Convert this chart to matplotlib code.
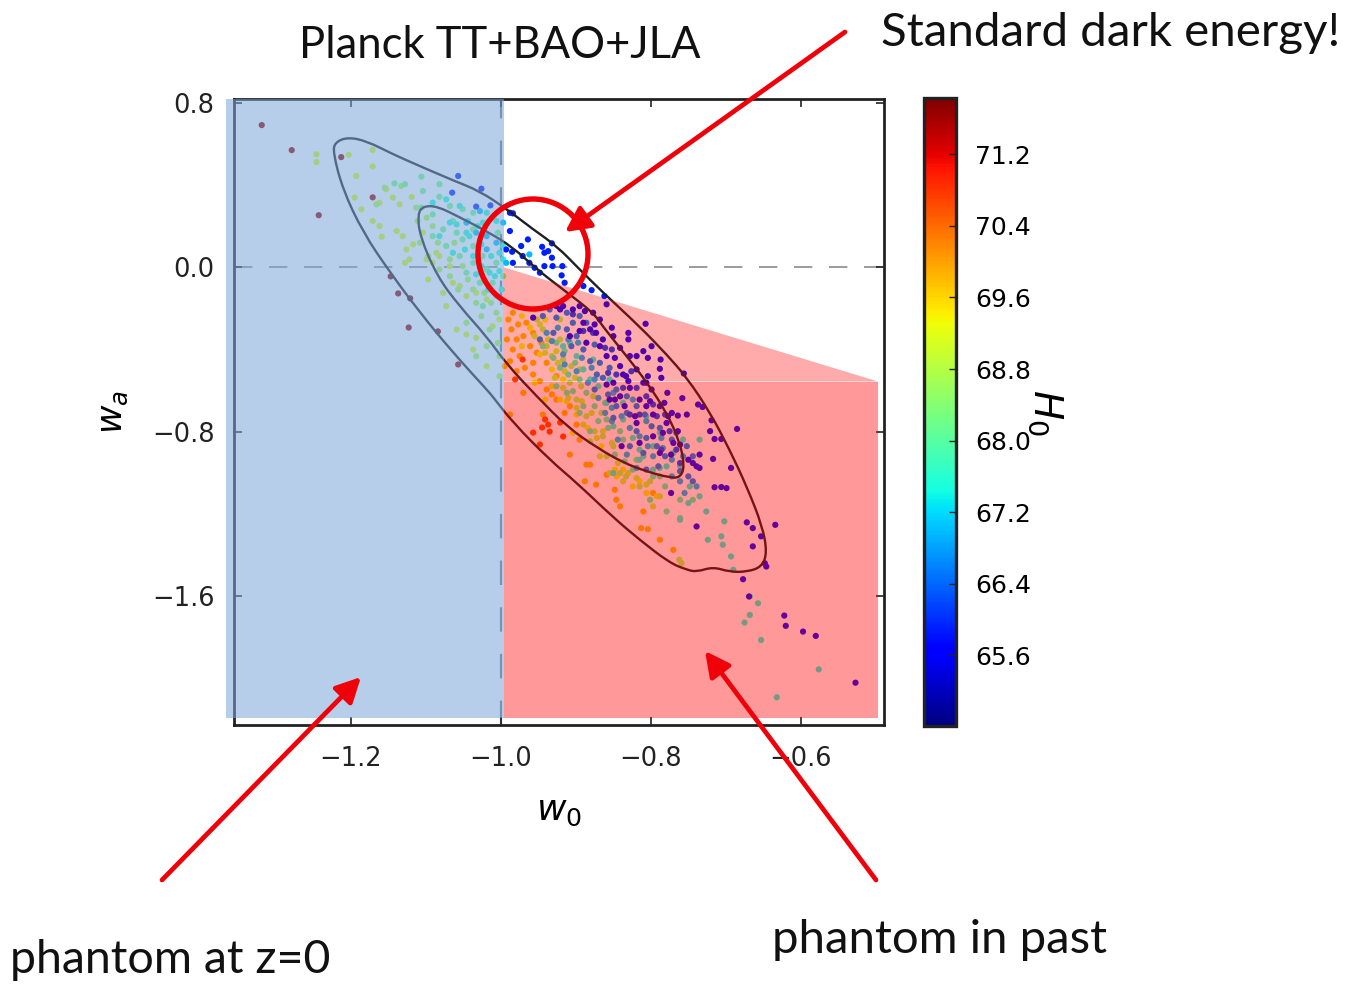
import matplotlib
matplotlib.use("Agg")
import matplotlib.pyplot as plt
import numpy as np
from matplotlib.cm import ScalarMappable
from matplotlib.colors import Normalize
from matplotlib.patches import Circle, PathPatch
from matplotlib.path import Path

W, H = 1346, 986
ink = "#222222"
plt.rcParams.update({
    'font.family': 'DejaVu Sans',
    'mathtext.fontset': 'dejavusans',
    'axes.linewidth': 2.0,
    'axes.edgecolor': ink,
    'text.color': ink,
})

# outer and inner likelihood contours
outer_w0 = [-1.224, -1.221, -1.204, -1.179, -1.144, -1.108, -1.064, -1.028, -0.992, -0.957, -0.925, -0.895, -0.864,
            -0.815, -0.779, -0.752, -0.721, -0.695, -0.672, -0.651, -0.645, -0.652, -0.672, -0.695, -0.717, -0.739,
            -0.752, -0.775, -0.815, -0.851, -0.899, -0.935, -0.984, -1.011, -1.019, -1.064, -1.108, -1.148, -1.184,
            -1.211]
outer_wa = [0.561, 0.610, 0.634, 0.615, 0.551, 0.493, 0.424, 0.371, 0.283, 0.185, 0.102, -0.010, -0.122,
            -0.288, -0.424, -0.537, -0.707, -0.888, -1.068, -1.263, -1.390, -1.459, -1.483, -1.483, -1.459, -1.483,
            -1.473, -1.439, -1.327, -1.215, -1.049, -0.937, -0.756, -0.629, -0.595, -0.415, -0.220, -0.024, 0.171,
            0.380]
inner_w0 = [-1.111, -1.104, -1.085, -1.055, -1.019, -0.984, -0.952, -0.912, -0.877, -0.864, -0.832, -0.805, -0.779,
            -0.761, -0.755, -0.761, -0.775, -0.805, -0.837, -0.872, -0.912, -0.952, -0.992, -1.019, -1.055, -1.085,
            -1.108]
inner_wa = [0.259, 0.298, 0.298, 0.244, 0.176, 0.098, -0.010, -0.122, -0.220, -0.288, -0.434, -0.561, -0.707,
            -0.854, -0.971, -1.024, -1.024, -0.995, -0.951, -0.878, -0.776, -0.629, -0.473, -0.337, -0.190, -0.044,
            0.151]

# samples, one group per H0 band
h0_tail = 71.7
w0_tail = [-1.319, -1.279, -1.243, -1.147, -1.137, -1.123, -1.213, -1.171, -1.084, -1.057, -1.121]
wa_tail = [0.693, 0.571, 0.254, -0.044, -0.127, -0.293, 0.537, 0.341, -0.312, -0.473, -0.151]

h0_red = 70.6
w0_red = [-0.957, -0.945, -0.937, -0.921, -0.917, -0.948, -0.935, -0.981, -0.971, -0.941]
wa_red = [-0.805, -0.780, -0.766, -0.756, -0.824, -0.863, -0.800, -0.546, -0.449, -0.741]

h0_orange = 69.75
w0_orange = [-0.990, -0.986, -0.979, -0.984, -0.975, -0.988, -0.966, -0.970, -0.961, -0.952, -0.968, -0.957, -0.948,
             -0.970, -0.939, -0.932, -0.944, -0.908, -0.886, -0.881, -0.888, -0.873, -0.859, -0.846, -0.841, -0.848,
             -0.810, -0.813, -0.804, -0.788, -0.770, -0.797, -0.908, -0.895, -0.988, -0.992, -0.984, -0.977, -0.957,
             -0.946, -0.939, -0.926, -0.957, -0.995, -0.979, -0.926, -0.915, -0.899]
wa_orange = [-0.254, -0.302, -0.351, -0.400, -0.432, -0.457, -0.270, -0.335, -0.384, -0.416, -0.489, -0.522, -0.554,
             -0.611, -0.595, -0.619, -0.717, -0.912, -0.961, -0.961, -1.042, -1.058, -1.010, -1.132, -1.164, -1.083,
             -1.189, -1.270, -1.275, -1.327, -1.376, -1.099, -0.676, -0.839, -0.717, -0.351, -0.221, -0.278, -0.319,
             -0.367, -0.465, -0.530, -0.465, -0.481, -0.506, -0.644, -0.709, -0.766]

h0_amber = 69.3
w0_amber = [-0.972, -0.955, -0.941, -0.961, -0.972, -0.948, -0.932, -0.917, -0.932, -0.912, -0.921, -0.899, -0.904,
            -0.884, -0.866, -0.837, -0.846, -0.824, -0.806, -0.815, -0.848, -0.792, -0.955, -0.941]
wa_amber = [-0.237, -0.205, -0.254, -0.294, -0.384, -0.424, -0.497, -0.546, -0.579, -0.652, -0.644, -0.717, -0.806,
            -0.782, -0.871, -0.985, -1.018, -1.067, -1.099, -1.042, -0.985, -1.115, -0.562, -0.644]

h0_yellow = 69.1
w0_yellow = [-1.246, -1.246, -1.203, -1.171, -1.171, -1.193, -1.195, -1.186, -1.171, -1.162, -1.159, -1.153, -1.162,
             -1.144, -1.135, -1.119, -1.139, -1.131, -1.117, -1.126, -1.122, -1.128, -1.097, -1.091, -1.068, -1.064,
             -1.055, -1.077, -1.073, -1.046, -1.033, -1.019, -1.059, -1.046, -1.033, -1.037, -1.019, -1.011, -1.002,
             -1.104, -1.086, -1.099, -1.082]
wa_yellow = [0.551, 0.513, 0.548, 0.572, 0.491, 0.445, 0.340, 0.283, 0.226, 0.201, 0.149, 0.380, 0.315,
             0.340, 0.307, 0.343, 0.177, 0.152, 0.112, 0.087, 0.039, 0.022, -0.059, 0.022, 0.006, -0.075,
             -0.091, -0.124, -0.189, -0.140, -0.124, -0.156, -0.303, -0.327, -0.343, -0.400, -0.482, -0.287, -0.254,
             0.169, 0.071, 0.039, 0.055]

h0_khaki = 68.9
w0_khaki = [-0.955, -0.948, -0.937, -0.941, -0.926, -0.924, -0.915, -0.928, -0.901, -0.917, -0.910, -0.892, -0.899,
            -0.879, -0.890, -0.872, -0.864, -0.852, -0.868, -0.844, -0.830, -0.855, -0.837, -0.819, -0.806, -0.788,
            -0.797]
wa_khaki = [-0.335, -0.278, -0.351, -0.416, -0.408, -0.465, -0.506, -0.538, -0.538, -0.587, -0.636, -0.652, -0.684,
            -0.709, -0.766, -0.831, -0.798, -0.855, -0.920, -0.953, -1.002, -1.002, -1.042, -1.026, -1.058, -1.115,
            -1.164]

h0_olive = 68.7
w0_olive = [-0.921, -0.932, -0.917, -0.908, -0.899, -0.886, -0.875, -0.864, -0.881, -0.859, -0.841, -0.833, -0.815,
            -0.801, -0.850, -0.906, -0.893, -0.895, -0.877, -0.866, -0.921, -0.944, -0.939, -0.952, -0.762, -0.759]
wa_olive = [-0.351, -0.432, -0.449, -0.562, -0.644, -0.725, -0.798, -0.823, -0.847, -0.920, -1.002, -1.018, -1.067,
            -1.042, -0.871, -0.481, -0.579, -0.497, -0.628, -0.709, -0.254, -0.302, -0.384, -0.254, -1.424, -1.441]

h0_lime = 68.7
w0_lime = [-1.155, -1.166, -1.133, -1.113, -1.099, -1.111, -1.091, -1.108, -1.084, -1.062, -1.097, -1.068, -1.051,
           -1.082, -1.068, -1.044, -1.057, -1.037, -1.022, -1.033, -1.013, -1.006, -1.026, -1.046, -1.015, -1.019,
           -1.004, -1.002, -1.033, -1.002]
wa_lime = [0.388, 0.307, 0.396, 0.291, 0.242, 0.226, 0.201, 0.120, 0.120, 0.120, 0.055, 0.039, 0.006,
           -0.010, -0.043, -0.059, -0.108, -0.108, -0.124, -0.173, -0.173, -0.221, -0.238, -0.270, -0.303, -0.384,
           -0.368, -0.433, -0.433, -0.530]

h0_green = 68.2
w0_green = [-1.106, -1.128, -1.142, -1.104, -1.082, -1.082, -1.106, -1.091, -1.068, -1.064, -1.051, -1.077, -1.059,
            -1.091, -1.073, -1.051, -1.037, -1.055, -1.037, -1.024, -1.019, -1.046, -1.028, -1.011, -1.006, -1.024,
            -0.997, -1.006, -1.037, -1.037, -1.004]
wa_green = [0.442, 0.405, 0.409, 0.372, 0.405, 0.344, 0.291, 0.258, 0.299, 0.226, 0.283, 0.185, 0.169,
            0.152, 0.104, 0.136, 0.104, 0.055, 0.022, 0.055, -0.010, -0.026, -0.075, -0.075, -0.140, -0.189,
            -0.043, 0.022, 0.185, 0.266, 0.169]

h0_sea = 67.9
w0_sea = [-0.944, -0.926, -0.915, -0.930, -0.921, -0.901, -0.910, -0.895, -0.904, -0.886, -0.890, -0.875, -0.861,
          -0.870, -0.857, -0.841, -0.837, -0.848, -0.835, -0.819, -0.824, -0.797, -0.788, -0.781, -0.801, -0.761,
          -0.744, -0.779, -0.761, -0.859, -0.912, -0.926, -0.881, -0.895]
wa_sea = [-0.384, -0.367, -0.408, -0.441, -0.489, -0.465, -0.522, -0.546, -0.603, -0.611, -0.676, -0.676, -0.660,
          -0.749, -0.782, -0.798, -0.839, -0.912, -0.945, -0.937, -0.985, -1.018, -1.018, -1.067, -1.132, -1.132,
          -1.132, -1.189, -1.221, -0.741, -0.611, -0.579, -0.798, -0.709]

h0_teal = 67.5
w0_teal = [-0.917, -0.908, -0.899, -0.890, -0.881, -0.870, -0.859, -0.850, -0.837, -0.824, -0.815, -0.810, -0.797,
           -0.788, -0.779, -0.761, -0.757, -0.735, -0.748, -0.750, -0.735, -0.761, -0.726, -0.702, -0.706, -0.724,
           -0.704, -0.693, -0.690, -0.668, -0.675, -0.657, -0.653, -0.576, -0.632, -0.668, -0.877, -0.855, -0.806,
           -0.837, -0.788, -0.770, -0.797, -0.850, -0.815]
wa_teal = [-0.384, -0.367, -0.432, -0.497, -0.546, -0.579, -0.660, -0.774, -0.741, -0.831, -0.888, -0.920, -0.871,
           -0.977, -0.969, -0.969, -0.839, -0.839, -1.067, -1.148, -1.115, -1.229, -1.189, -1.237, -1.310, -1.327,
           -1.351, -1.408, -1.473, -1.693, -1.730, -1.636, -1.815, -1.958, -2.094, -1.603, -0.449, -0.546, -0.725,
           -0.660, -0.806, -0.904, -0.985, -1.002, -0.937]

h0_aqua = 67.5
w0_aqua = [-1.091, -1.073, -1.055, -1.044, -1.068, -1.082, -1.059, -1.046, -1.064, -1.048, -1.026, -1.037, -1.026,
           -1.013, -1.002, -1.015, -1.002, -1.033, -1.017, -0.999, -1.042, -1.024, -1.006, -1.019, -1.031, -0.997,
           -0.997, -1.008]
wa_aqua = [0.315, 0.331, 0.299, 0.226, 0.218, 0.152, 0.209, 0.169, 0.071, 0.087, 0.112, 0.055, 0.006,
           0.055, 0.071, -0.026, -0.018, -0.034, -0.108, -0.108, 0.152, 0.218, 0.226, 0.266, 0.201, 0.104,
           0.039, -0.043]

h0_steel = 67.0
w0_steel = [-0.939, -0.924, -0.910, -0.897, -0.917, -0.892, -0.879, -0.884, -0.870, -0.852, -0.861, -0.839, -0.828,
            -0.844, -0.815, -0.804, -0.784, -0.772, -0.797, -0.832, -0.819, -0.757, -0.761, -0.755, -0.739, -0.772,
            -0.899, -0.932, -0.915, -0.852, -0.875, -0.850, -0.824, -0.806, -0.786]
wa_steel = [-0.319, -0.294, -0.351, -0.367, -0.424, -0.441, -0.489, -0.562, -0.636, -0.684, -0.709, -0.725, -0.782,
            -0.839, -0.823, -0.871, -0.880, -0.937, -0.920, -0.912, -0.977, -0.920, -1.042, -1.099, -1.067, -1.018,
            -0.506, -0.359, -0.473, -0.749, -0.546, -0.611, -0.644, -0.749, -0.831]

h0_cyan = 67.0
w0_cyan = [-1.006, -1.019, -0.993, -0.997, -1.019, -1.046, -1.033, -1.028, -0.962]
wa_cyan = [0.120, 0.152, 0.022, 0.218, 0.088, 0.218, 0.169, 0.274, 0.063]

h0_slate = 66.6
w0_slate = [-0.935, -0.926, -0.912, -0.904, -0.895, -0.912, -0.899, -0.886, -0.875, -0.890, -0.906, -0.881, -0.868,
            -0.855, -0.864, -0.872, -0.875, -0.846, -0.857, -0.832, -0.846, -0.819, -0.832, -0.808, -0.850, -0.819,
            -0.799, -0.788, -0.806, -0.772, -0.792, -0.828, -0.810, -0.781, -0.752, -0.744, -0.750, -0.744, -0.806,
            -0.790, -0.761, -0.766, -0.944, -0.930, -0.948]
wa_slate = [-0.205, -0.245, -0.221, -0.270, -0.237, -0.302, -0.335, -0.270, -0.376, -0.400, -0.384, -0.457, -0.465,
            -0.489, -0.538, -0.522, -0.595, -0.595, -0.619, -0.628, -0.676, -0.676, -0.709, -0.717, -0.733, -0.798,
            -0.774, -0.782, -0.831, -0.839, -0.871, -0.871, -0.904, -0.920, -0.871, -0.920, -1.018, -1.042, -0.985,
            -0.969, -0.993, -0.806, -0.237, -0.319, -0.351]

h0_indigo = 66.2
w0_indigo = [-0.904, -0.877, -0.890, -0.861, -0.852, -0.846, -0.857, -0.826, -0.819, -0.837, -0.806, -0.792, -0.781,
             -0.797, -0.815, -0.828, -0.775, -0.786, -0.766, -0.761]
wa_indigo = [-0.229, -0.319, -0.310, -0.392, -0.400, -0.522, -0.514, -0.506, -0.587, -0.587, -0.628, -0.725, -0.717,
             -0.668, -0.717, -0.717, -0.798, -0.888, -0.888, -0.953]

h0_violet = 65.7
w0_violet = [-0.807, -0.830, -0.830, -0.799, -0.810, -0.819, -0.804, -0.787, -0.788, -0.786, -0.756, -0.804, -0.806,
             -0.778, -0.758, -0.782, -0.737, -0.731, -0.764, -0.752, -0.777, -0.719, -0.721, -0.685, -0.715, -0.706,
             -0.717, -0.693, -0.735, -0.744, -0.739, -0.715, -0.706, -0.699, -0.672, -0.664, -0.653, -0.664, -0.634,
             -0.648, -0.646, -0.677, -0.669, -0.622, -0.620, -0.597, -0.580, -0.527, -0.739, -0.773, -0.904, -0.890,
             -0.881, -0.877, -0.873, -0.859, -0.850, -0.868, -0.859, -0.841, -0.833, -0.850, -0.859, -0.855, -0.841,
             -0.828, -0.815, -0.806, -0.819, -0.797, -0.784, -0.770, -0.839, -0.815, -0.957, -0.921, -0.895, -0.886,
             -0.788, -0.773, -0.917, -0.895, -0.868, -0.852, -0.864, -0.841, -0.848, -0.828, -0.819, -0.830, -0.810,
             -0.799, -0.788, -0.772, -0.801, -0.779, -0.764, -0.761, -0.837, -0.888, -0.875, -0.926, -0.908, -0.848,
             -0.835, -0.821, -0.797, -0.750, -0.735]
wa_violet = [-0.275, -0.319, -0.351, -0.384, -0.408, -0.432, -0.441, -0.449, -0.494, -0.538, -0.517, -0.530, -0.562,
             -0.611, -0.637, -0.660, -0.668, -0.680, -0.722, -0.717, -0.725, -0.745, -0.798, -0.787, -0.836, -0.836,
             -0.933, -0.977, -0.912, -0.953, -0.969, -1.071, -1.070, -1.075, -1.242, -1.270, -1.310, -1.359, -1.254,
             -1.441, -1.457, -1.519, -1.603, -1.696, -1.746, -1.774, -1.795, -2.023, -1.262, -1.099, -0.205, -0.270,
             -0.302, -0.221, -0.319, -0.180, -0.335, -0.384, -0.432, -0.481, -0.530, -0.562, -0.571, -0.644, -0.628,
             -0.587, -0.644, -0.676, -0.758, -0.717, -0.806, -0.855, -0.871, -0.855, -0.245, -0.205, -0.310, -0.367,
             -0.904, -0.912, -0.189, -0.189, -0.254, -0.294, -0.351, -0.392, -0.441, -0.432, -0.497, -0.554, -0.562,
             -0.595, -0.676, -0.709, -0.652, -0.758, -0.798, -0.863, -0.522, -0.213, -0.278, -0.189, -0.335, -0.644,
             -0.676, -0.725, -0.823, -0.937, -0.977]

h0_blue = 65.9
w0_blue = [-0.988, -0.984, -0.988, -0.985, -0.964, -0.973, -0.945, -0.932, -0.937, -0.942, -0.932, -0.942, -0.931,
           -0.918, -0.919, -0.962, -0.955, -0.948, -0.915, -0.890, -0.879, -0.862, -1.033, -1.014, -1.065, -1.026,
           -1.057, -0.984, -0.971, -0.993]
wa_blue = [0.266, 0.263, 0.177, 0.076, 0.136, 0.104, 0.100, 0.117, 0.079, 0.071, 0.047, 0.006, 0.006,
           0.006, -0.039, 0.022, -0.002, -0.026, -0.075, -0.091, -0.111, -0.140, 0.296, 0.302, 0.364, 0.383,
           0.445, 0.022, 0.055, 0.087]

# shaded regions
blue_w0 = [-1.367, -0.996, -0.996, -1.367]
blue_wa = [0.820, 0.820, -2.195, -2.195]
tri_w0 = [-0.996, -0.497, -0.996]
tri_wa = [0.0, -0.556, -0.556]
rect_w0 = [-0.996, -0.497, -0.497, -0.996]
rect_wa = [-0.556, -0.556, -2.195, -2.195]

x_ticks = [-1.2, -1.0, -0.8, -0.6]
y_ticks = [0.8, 0.0, -0.8, -1.6]
cbar_ticks = [65.6, 66.4, 67.2, 68.0, 68.8, 69.6, 70.4, 71.2]
h0_min, h0_max = 64.81, 71.83

bands = [(h0_tail, w0_tail, wa_tail), (h0_orange, w0_orange, wa_orange), (h0_amber, w0_amber, wa_amber),
         (h0_yellow, w0_yellow, wa_yellow), (h0_khaki, w0_khaki, wa_khaki), (h0_olive, w0_olive, wa_olive),
         (h0_lime, w0_lime, wa_lime), (h0_green, w0_green, wa_green), (h0_sea, w0_sea, wa_sea),
         (h0_teal, w0_teal, wa_teal), (h0_aqua, w0_aqua, wa_aqua), (h0_steel, w0_steel, wa_steel),
         (h0_cyan, w0_cyan, wa_cyan), (h0_slate, w0_slate, wa_slate), (h0_indigo, w0_indigo, wa_indigo),
         (h0_violet, w0_violet, wa_violet), (h0_blue, w0_blue, wa_blue), (h0_red, w0_red, wa_red)]


# closed smooth curve through the midpoints of the contour polygon
def smooth_closed(xs, ys):
    pts = np.column_stack([xs, ys])
    mids = (pts + np.roll(pts, -1, axis=0)) / 2
    verts = [mids[-1]]
    codes = [Path.MOVETO]
    for p, m in zip(pts, mids):
        verts += [p, m]
        codes += [Path.CURVE3, Path.CURVE3]
    return Path(verts, codes)


fig = plt.figure(figsize=(W / 100, H / 100), dpi=100)
ax = fig.add_axes([234 / W, 1 - 725 / H, 650 / W, 626 / H])
norm = Normalize(h0_min, h0_max)
for h0, w0s, was in bands:
    ax.scatter(w0s, was, c=[h0] * len(w0s), cmap='jet', norm=norm, s=20, linewidths=0, zorder=1.5)
for xs, ys in [(outer_w0, outer_wa), (inner_w0, inner_wa)]:
    ax.add_patch(PathPatch(smooth_closed(xs, ys), fill=False, ec='#1c2024', lw=1.7, zorder=2))
ax.axhline(0, color='#8a8a8a', lw=1.2, dashes=(11, 10), zorder=1)
ax.axvline(-1.0, color='#6f7f8f', lw=1.6, dashes=(11, 10), zorder=1)
ax.set_xlim(-1.356, -0.489)
ax.set_ylim(-2.229, 0.82)
ax.set_xticks(x_ticks)
ax.set_yticks(y_ticks)
ax.tick_params(direction='in', length=6, width=1.2, top=True, right=True, labelsize=18.5, color=ink, labelcolor=ink)
ax.tick_params(axis='x', pad=15)
ax.tick_params(axis='y', pad=14)
ax.set_xlabel(r'$w_0$', fontsize=26, labelpad=16)
ax.set_ylabel(r'$w_a$', fontsize=25, labelpad=16)

ax.fill(blue_w0, blue_wa, color='#7da7d9', alpha=0.55, lw=0, clip_on=False, zorder=3)
ax.fill(tri_w0, tri_wa, color='red', alpha=0.33, lw=0, clip_on=False, zorder=3)
ax.fill([-0.996, -0.497, -0.497], [0.0, -0.556, -0.556], color='red', alpha=0.33, lw=0, clip_on=False, zorder=3)
ax.fill(rect_w0, rect_wa, color='red', alpha=0.4, lw=0, clip_on=False, zorder=3)

cax = fig.add_axes([924 / W, 1 - 726 / H, 32 / W, 628 / H])
cb = fig.colorbar(ScalarMappable(norm=norm, cmap='jet'), cax=cax)
cb.set_ticks(cbar_ticks)
cb.set_ticklabels(['%.1f' % t for t in cbar_ticks])
cb.ax.tick_params(direction='in', length=5, width=1.0, labelsize=18, pad=14, color=ink)
cb.outline.set_linewidth(2.4)
cb.set_label(r'$H_0$', rotation=270, fontsize=28, labelpad=24)

# annotations layer in pixel coordinates
over = fig.add_axes([0, 0, 1, 1], facecolor='none')
over.set_xlim(0, W)
over.set_ylim(H, 0)
over.axis('off')
over.add_patch(Circle((533, 254), 55, fill=False, ec='#f00008', lw=3.9))
arrows = [((845, 32), (565, 232)), ((162, 880), (361, 677)), ((876, 880), (705, 651))]
for start, end in arrows:
    over.annotate('', xy=end, xytext=start,
                  arrowprops=dict(arrowstyle='-|>,head_length=0.75,head_width=0.38', color='#f00008', lw=3.4,
                                  mutation_scale=20, shrinkA=0, shrinkB=0))
text_font = 'Lato'
txt = '#111111'
over.text(500, 45, 'Planck TT+BAO+JLA', family=text_font, fontsize=31.4, ha='center', va='center', color=txt)
over.text(1111, 33, 'Standard dark energy!', family=text_font, fontsize=34.2, ha='center', va='center', color=txt)
over.text(170, 960, 'phantom at z=0', family=text_font, fontsize=33.5, ha='center', va='center', color=txt)
over.text(940, 940, 'phantom in past', family=text_font, fontsize=34, ha='center', va='center', color=txt)

fig.savefig('out.png', dpi=100)
